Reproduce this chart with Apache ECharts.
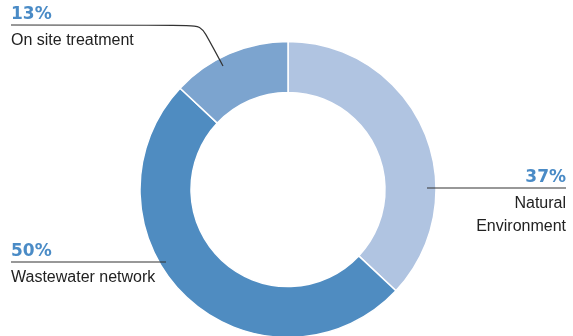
<!DOCTYPE html>
<html>
<head>
<meta charset="utf-8">
<script src="https://cdn.jsdelivr.net/npm/echarts@6/dist/echarts.min.js"></script>
<style>
  html, body { margin: 0; padding: 0; background: #fff; }
  #chart { width: 573px; height: 336px; }
</style>
</head>
<body>
<div id="chart"></div>
<script>
// Share of treated water by destination
const categories = ['Natural Environment', 'Wastewater network', 'On site treatment'];
const shares = [37, 50, 13];
const nameLines = ['Natural\nEnvironment', 'Wastewater network', 'On site treatment'];

const sliceColors = ['#b0c4e1', '#4f8cc1', '#7ca4cf'];

// Callout placement per slice: line path and where the text block sits
const callouts = [
  { pts: [[427, 188], [500, 188], [566, 188]], x: 566, y: 188, align: 'right' },
  { pts: [[166, 262], [90, 262], [11, 262]], x: 11, y: 262, align: 'left' },
  { pts: [[223, 66], [201, 25], [11, 25]], x: 11, y: 25, align: 'left' }
];

const ring = { center: [288, 189.5], radius: [97, 148], startAngle: 90, clockwise: true };

const pieData = categories.map((name, i) => ({ name: name, value: shares[i] }));

const chart = echarts.init(document.getElementById('chart'), null, { renderer: 'canvas' });

chart.setOption({
  animation: false,
  series: [
    // the ring itself
    Object.assign({
      type: 'pie',
      z: 2,
      silent: true,
      data: pieData.map((d, i) => Object.assign({}, d, { itemStyle: { color: sliceColors[i] } })),
      itemStyle: { borderColor: '#ffffff', borderWidth: 1.5 },
      label: { show: false },
      labelLine: { show: false }
    }, ring),
    // callouts drawn above the ring so their lines reach into the slices
    Object.assign({
      type: 'pie',
      z: 3,
      silent: true,
      data: pieData.map((d, i) => Object.assign({}, d, { label: { align: callouts[i].align } })),
      itemStyle: { color: 'rgba(0,0,0,0)', borderWidth: 0 },
      label: {
        show: true,
        position: 'outside',
        overflow: 'none',
        formatter: p => '{pct|' + p.value + '%}\n{name|' + nameLines[p.dataIndex].split('\n').join('}\n{name|') + '}',
        rich: {
          pct: {
            fontFamily: 'DejaVu Sans',
            fontWeight: 'bold',
            fontSize: 17,
            color: '#4a8bc6',
            lineHeight: 24
          },
          name: {
            fontFamily: '"Liberation Sans", Arial, sans-serif',
            fontSize: 16,
            color: '#222222',
            lineHeight: 23,
            padding: [4, 0, 0, 0]
          }
        }
      },
      labelLine: {
        show: true,
        smooth: 0.12,
        lineStyle: { color: '#333333', width: 1.2 }
      },
      labelLayout: params => {
        const c = callouts[params.dataIndex];
        return {
          x: c.x,
          y: c.y - 22,
          align: c.align,
          verticalAlign: 'top',
          labelLinePoints: c.pts
        };
      }
    }, ring)
  ]
});
</script>
</body>
</html>
